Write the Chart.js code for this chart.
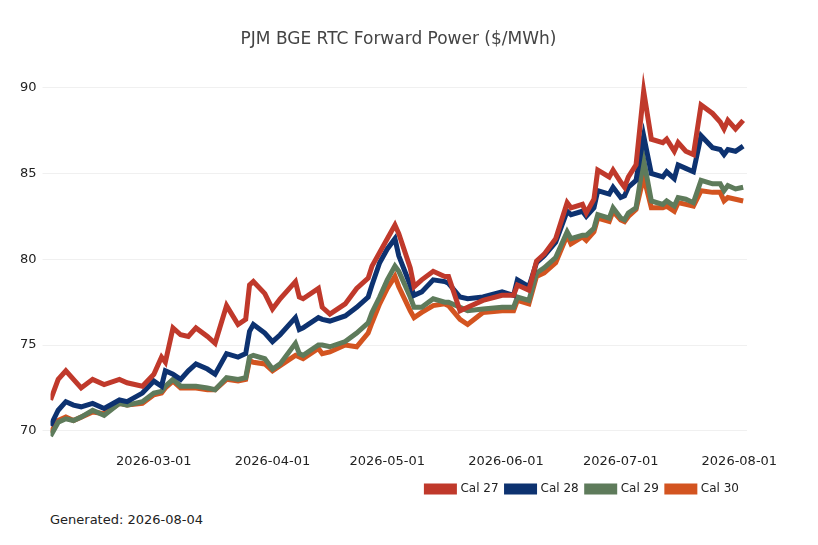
<!DOCTYPE html>
<html><head><meta charset="utf-8">
<script src="https://cdn.jsdelivr.net/npm/chart.js@4"></script>
<style>html,body{margin:0;padding:0;background:#fff;font-family:"DejaVu Sans",sans-serif}
#wrap{position:relative;width:818px;height:545px}
#title{position:absolute;left:0;width:797px;text-align:center;top:28px;font-size:17px;color:#444}
#gen{position:absolute;left:50px;top:512px;font-size:13px;color:#222}</style>
</head><body><div id="wrap"><canvas id="c" width="818" height="505"></canvas><div id="title">PJM BGE RTC Forward Power ($/MWh)</div><div id="gen">Generated: 2026-08-04</div></div>
<script>
const dayOffsets=[0,2,4,6,8,11,14,18,20,24,27,29,30,32,34,36,38,41,43,46,49,51,52,53,56,58,60,64,65,66,70,71,73,77,80,83,84,86,88,90,91,94,95,97,100,103,104,107,109,113,118,121,122,125,127,129,132,135,136,139,140,142,143,146,147,149,150,151,153,155,157,160,161,163,164,166,168,170,173,175,176,177,179,181];
const startDate=Date.UTC(2026,1,2);
const cal27=[71.8,73.0,73.5,73.0,72.5,73.0,72.7,73.0,72.8,72.6,73.3,74.3,74.0,76.0,75.6,75.5,76.0,75.5,75.1,77.3,76.2,76.5,78.5,78.7,78.0,77.1,77.7,78.7,77.8,77.7,78.3,77.2,76.8,77.4,78.3,78.9,79.6,80.4,81.2,82.0,81.5,79.5,78.4,78.8,79.3,79.0,79.0,77.0,77.2,77.6,77.9,77.9,78.5,78.2,79.9,80.3,81.2,83.3,83.0,83.2,82.7,83.5,85.2,84.8,85.2,84.5,84.2,84.8,85.5,89.8,87.0,86.8,87.0,86.3,86.8,86.3,86.1,89.0,88.5,88.0,87.6,88.1,87.6,88.1];
const cal28=[70.3,71.2,71.7,71.5,71.4,71.6,71.3,71.8,71.7,72.2,72.9,72.6,73.5,73.3,73.0,73.5,73.9,73.6,73.3,74.5,74.3,74.5,75.8,76.2,75.7,75.2,75.6,76.6,75.9,76.0,76.6,76.5,76.4,76.7,77.2,77.8,78.5,79.8,80.6,81.2,80.2,78.5,77.9,78.1,78.8,78.7,78.6,77.8,77.7,77.8,78.1,77.9,78.8,78.4,79.8,80.2,81.0,82.8,82.6,82.8,82.5,83.0,84.0,83.8,84.2,83.6,83.7,84.2,84.6,87.2,85.0,84.8,85.1,84.7,85.5,85.3,85.1,87.2,86.5,86.4,86.1,86.4,86.3,86.6];
const cal29=[69.7,70.5,70.7,70.6,70.8,71.2,70.9,71.6,71.5,71.7,72.2,72.3,72.6,73.0,72.6,72.6,72.6,72.5,72.4,73.1,73.0,73.1,74.3,74.4,74.2,73.6,73.9,75.1,74.5,74.4,75.0,75.0,74.9,75.2,75.7,76.3,76.9,77.8,78.8,79.6,79.3,77.8,77.2,77.2,77.7,77.5,77.5,77.2,77.0,77.1,77.2,77.2,77.8,77.6,79.2,79.5,80.1,81.6,81.2,81.4,81.4,81.8,82.6,82.4,83.0,82.4,82.3,82.7,83.0,85.8,83.4,83.2,83.4,83.1,83.6,83.5,83.3,84.6,84.4,84.4,84.0,84.3,84.1,84.2];
const cal30=[69.9,70.6,70.8,70.6,70.8,71.1,71.0,71.6,71.5,71.6,72.1,72.2,72.5,72.9,72.5,72.5,72.5,72.4,72.4,73.0,72.9,73.0,74.1,74.0,73.9,73.5,73.8,74.4,74.3,74.2,74.8,74.5,74.6,75.0,74.9,75.7,76.3,77.4,78.3,79.0,78.4,77.0,76.6,76.9,77.3,77.4,77.3,76.5,76.2,76.9,77.0,77.0,77.6,77.4,79.0,79.2,79.8,81.4,80.9,81.3,81.1,81.6,82.4,82.2,82.8,82.3,82.2,82.5,82.9,84.8,83.0,83.0,83.1,82.8,83.3,83.2,83.1,84.0,83.9,83.9,83.4,83.6,83.5,83.4];
const xTickLabels=["2026-03-01","2026-04-01","2026-05-01","2026-06-01","2026-07-01","2026-08-01"];
const dayOf=s=>{const [y,m,d]=s.split('-').map(Number);return (Date.UTC(y,m-1,d)-startDate)/864e5;};
const pts=a=>a.map((v,i)=>({x:dayOffsets[i],y:v}));
const mk=(label,data,color)=>({label,data:pts(data),borderColor:color,backgroundColor:color,borderWidth:5,pointRadius:0,tension:0});
new Chart(document.getElementById('c'),{type:'line',
data:{datasets:[mk('Cal 27',cal27,'#c0392b'),mk('Cal 28',cal28,'#0d3270'),mk('Cal 29',cal29,'#5e7b5b'),mk('Cal 30',cal30,'#d35420')]},
options:{responsive:false,animation:false,
layout:{padding:{left:14,right:71,top:62,bottom:0}},
plugins:{title:{display:false},
legend:{position:'bottom',align:'end',labels:{boxWidth:28,boxHeight:6,color:'#222',font:{size:12,family:'DejaVu Sans'},padding:8}}},
scales:{x:{type:'linear',min:0,max:182,grid:{display:false},border:{display:false},
afterBuildTicks:ax=>{ax.ticks=xTickLabels.map(s=>({value:dayOf(s)}));},
ticks:{color:'#222',font:{size:13,family:'DejaVu Sans'},maxRotation:0,padding:6,callback:(v)=>{const d=new Date(startDate+v*864e5);return d.toISOString().slice(0,10);}}},
y:{min:69.5,max:91.5,grid:{color:'#f0f0f0'},border:{display:false},
afterBuildTicks:ax=>{ax.ticks=[70,75,80,85,90].map(v=>({value:v}));},
ticks:{color:'#222',font:{size:13,family:'DejaVu Sans'},padding:6}}}}});
</script></body></html>
